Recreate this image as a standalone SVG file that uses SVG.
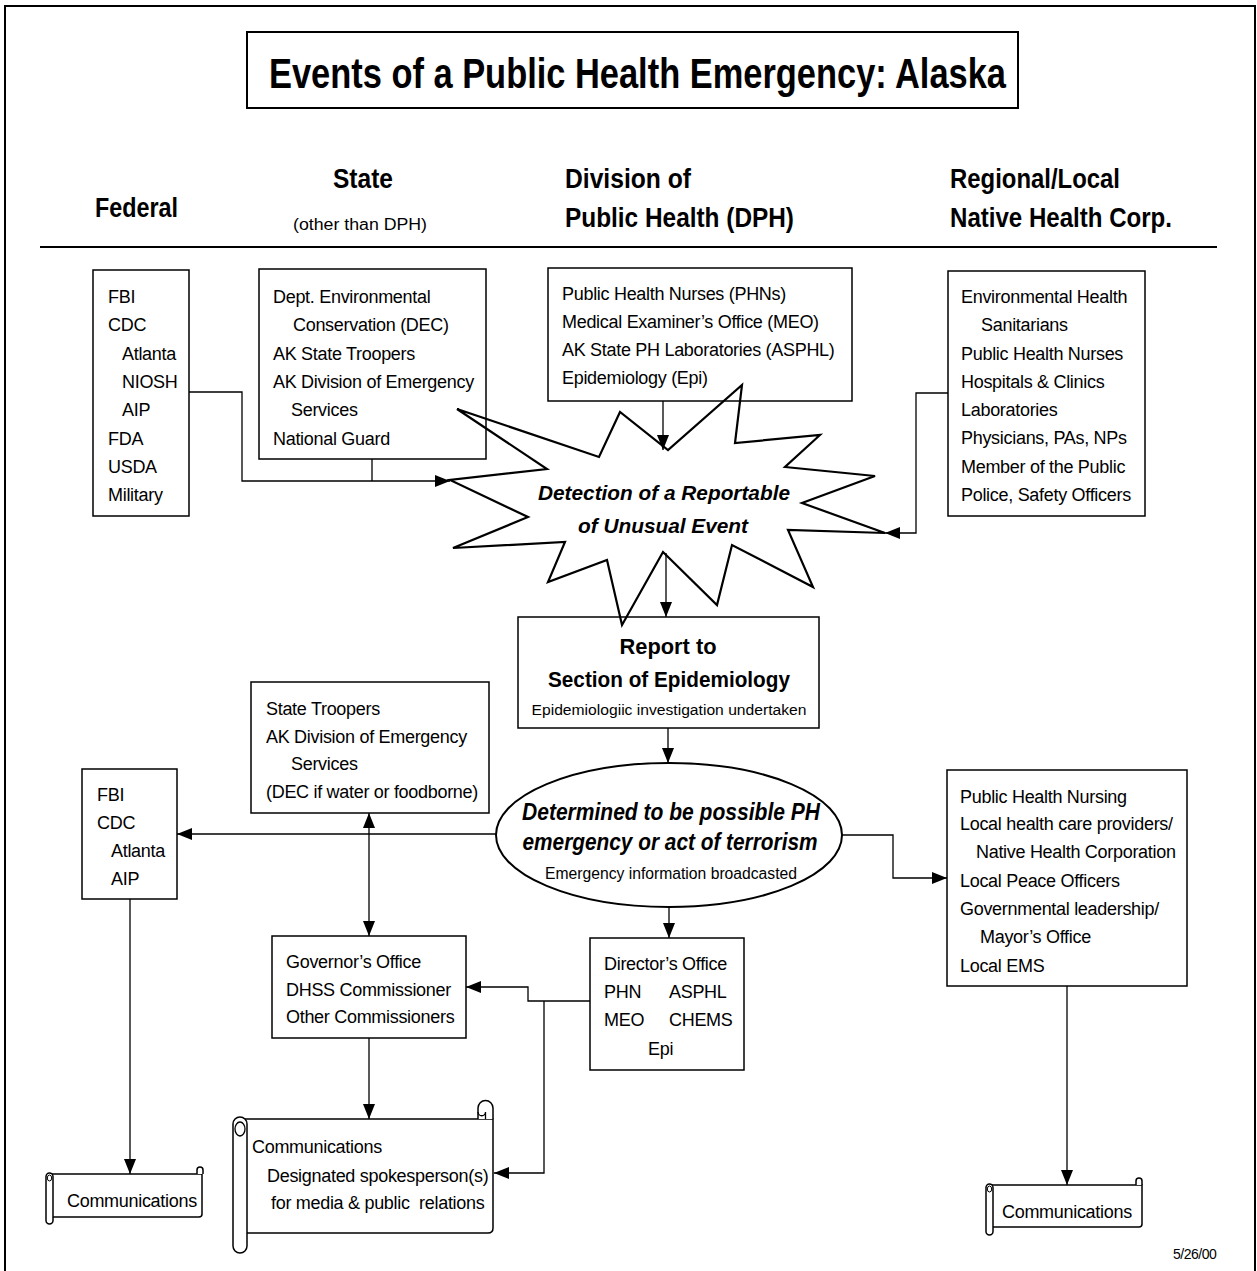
<svg xmlns="http://www.w3.org/2000/svg" width="1257" height="1271" viewBox="0 0 1257 1271">
<defs>
<style>
.frame{fill:none;stroke:#000;stroke-width:2}
.box{fill:none;stroke:#000;stroke-width:1.5}
.ln{fill:none;stroke:#000;stroke-width:1.3}
.arr{marker-end:url(#ah)}
.t{font-family:"Liberation Sans",Arial,sans-serif;font-size:18px;letter-spacing:-0.3px;fill:#000}
.hd{font-family:"Liberation Sans",Arial,sans-serif;font-size:27px;font-weight:bold;fill:#000}
.bi{font-family:"Liberation Sans",Arial,sans-serif;font-weight:bold;font-style:italic;fill:#000}
.sc{fill:#fff;stroke:#000;stroke-width:1.5}
</style>
<marker id="ah" markerUnits="userSpaceOnUse" markerWidth="15" markerHeight="12" refX="15" refY="6" orient="auto-start-reverse">
<path d="M0,0 L15,6 L0,12 z" fill="#000"/>
</marker>
</defs>
<rect x="0" y="0" width="1257" height="1271" fill="#fff"/>
<rect class="frame" x="5" y="6" width="1250" height="1275"/>

<g id="title">
<rect x="247" y="32" width="771" height="76" fill="none" stroke="#000" stroke-width="2"/>
<text x="269" y="88" font-family="Liberation Sans, Arial, sans-serif" font-size="43" font-weight="bold" textLength="737" lengthAdjust="spacingAndGlyphs">Events of a Public Health Emergency: Alaska</text>
</g>

<g id="headers">
<text class="hd" x="95" y="217" textLength="83" lengthAdjust="spacingAndGlyphs">Federal</text>
<text class="hd" x="333" y="188" textLength="60" lengthAdjust="spacingAndGlyphs">State</text>
<text x="293" y="230" font-family="Liberation Sans, Arial, sans-serif" font-size="16" textLength="134" lengthAdjust="spacingAndGlyphs">(other than DPH)</text>
<text class="hd" x="565" y="188" textLength="126" lengthAdjust="spacingAndGlyphs">Division of</text>
<text class="hd" x="565" y="227" textLength="229" lengthAdjust="spacingAndGlyphs">Public Health (DPH)</text>
<text class="hd" x="950" y="188" textLength="170" lengthAdjust="spacingAndGlyphs">Regional/Local</text>
<text class="hd" x="950" y="227" textLength="222" lengthAdjust="spacingAndGlyphs">Native Health Corp.</text>
<line x1="40" y1="247" x2="1217" y2="247" stroke="#000" stroke-width="2"/>
</g>

<g id="detection">
<polygon points="457,409 599,457 620,412 668,450 742,385 735,443 820,435 785,467 875,476 802,503 885,533 788,530 813,587 732,545 717,605 663,552 622,625 607,560 548,582 565,542 453,548 528,517 450,480 547,469" fill="#fff" stroke="#000" stroke-width="2.2" stroke-linejoin="miter"/>
<text class="bi" x="664" y="500" font-size="21" text-anchor="middle" textLength="252" lengthAdjust="spacingAndGlyphs">Detection of a Reportable</text>
<text class="bi" x="663" y="533" font-size="21" text-anchor="middle" textLength="170" lengthAdjust="spacingAndGlyphs">of Unusual Event</text>
</g>

<g id="federal-top">
<rect class="box" x="93" y="270" width="96" height="246"/>
<text class="t" x="108" y="303">FBI</text>
<text class="t" x="108" y="331">CDC</text>
<text class="t" x="122" y="360">Atlanta</text>
<text class="t" x="122" y="388">NIOSH</text>
<text class="t" x="122" y="416">AIP</text>
<text class="t" x="108" y="445">FDA</text>
<text class="t" x="108" y="473">USDA</text>
<text class="t" x="108" y="501">Military</text>
</g>

<g id="state-top">
<rect class="box" x="259" y="269" width="227" height="190"/>
<text class="t" x="273" y="303">Dept. Environmental</text>
<text class="t" x="293" y="331">Conservation (DEC)</text>
<text class="t" x="273" y="360">AK State Troopers</text>
<text class="t" x="273" y="388">AK Division of Emergency</text>
<text class="t" x="291" y="416">Services</text>
<text class="t" x="273" y="445">National Guard</text>
</g>

<g id="dph-top">
<rect class="box" x="548" y="268" width="304" height="133"/>
<text class="t" x="562" y="300">Public Health Nurses (PHNs)</text>
<text class="t" x="562" y="328">Medical Examiner’s Office (MEO)</text>
<text class="t" x="562" y="356">AK State PH Laboratories (ASPHL)</text>
<text class="t" x="562" y="384">Epidemiology (Epi)</text>
</g>

<g id="native-top">
<rect class="box" x="948" y="271" width="197" height="245"/>
<text class="t" x="961" y="303">Environmental Health</text>
<text class="t" x="981" y="331">Sanitarians</text>
<text class="t" x="961" y="360">Public Health Nurses</text>
<text class="t" x="961" y="388">Hospitals &amp; Clinics</text>
<text class="t" x="961" y="416">Laboratories</text>
<text class="t" x="961" y="444">Physicians, PAs, NPs</text>
<text class="t" x="961" y="473">Member of the Public</text>
<text class="t" x="961" y="501">Police, Safety Officers</text>
</g>

<g id="report">
<rect class="box" x="518" y="617" width="301" height="111" fill="#fff"/>
<text x="668" y="654" font-family="Liberation Sans, Arial, sans-serif" font-size="22" font-weight="bold" text-anchor="middle" textLength="97" lengthAdjust="spacingAndGlyphs">Report to</text>
<text x="669" y="687" font-family="Liberation Sans, Arial, sans-serif" font-size="22" font-weight="bold" text-anchor="middle" textLength="242" lengthAdjust="spacingAndGlyphs">Section of Epidemiology</text>
<text x="669" y="715" font-family="Liberation Sans, Arial, sans-serif" font-size="15.5" text-anchor="middle" textLength="275" lengthAdjust="spacingAndGlyphs">Epidemiologiic investigation undertaken</text>
</g>

<g id="state-mid">
<rect class="box" x="251" y="682" width="238" height="131"/>
<text class="t" x="266" y="715">State Troopers</text>
<text class="t" x="266" y="743">AK Division of Emergency</text>
<text class="t" x="291" y="770">Services</text>
<text class="t" x="266" y="798">(DEC if water or foodborne)</text>
</g>

<g id="determined">
<ellipse cx="669" cy="835" rx="173" ry="72" fill="#fff" stroke="#000" stroke-width="2"/>
<text class="bi" x="671" y="820" font-size="23" text-anchor="middle" textLength="298" lengthAdjust="spacingAndGlyphs">Determined to be possible PH</text>
<text class="bi" x="670" y="850" font-size="23" text-anchor="middle" textLength="295" lengthAdjust="spacingAndGlyphs">emergency or act of terrorism</text>
<text x="671" y="879" font-family="Liberation Sans, Arial, sans-serif" font-size="16" text-anchor="middle" textLength="252" lengthAdjust="spacingAndGlyphs">Emergency information broadcasted</text>
</g>

<g id="federal-mid">
<rect class="box" x="82" y="769" width="95" height="130"/>
<text class="t" x="97" y="801">FBI</text>
<text class="t" x="97" y="829">CDC</text>
<text class="t" x="111" y="857">Atlanta</text>
<text class="t" x="111" y="885">AIP</text>
</g>

<g id="native-mid">
<rect class="box" x="947" y="770" width="240" height="216"/>
<text class="t" x="960" y="803">Public Health Nursing</text>
<text class="t" x="960" y="830">Local health care providers/</text>
<text class="t" x="976" y="858">Native Health Corporation</text>
<text class="t" x="960" y="887">Local Peace Officers</text>
<text class="t" x="960" y="915">Governmental leadership/</text>
<text class="t" x="980" y="943">Mayor’s Office</text>
<text class="t" x="960" y="972">Local EMS</text>
</g>

<g id="governor">
<rect class="box" x="272" y="936" width="194" height="102"/>
<text class="t" x="286" y="968">Governor’s Office</text>
<text class="t" x="286" y="996">DHSS Commissioner</text>
<text class="t" x="286" y="1023">Other Commissioners</text>
</g>

<g id="director">
<rect class="box" x="590" y="938" width="154" height="132"/>
<text class="t" x="604" y="970">Director’s Office</text>
<text class="t" x="604" y="998">PHN</text>
<text class="t" x="669" y="998">ASPHL</text>
<text class="t" x="604" y="1026">MEO</text>
<text class="t" x="669" y="1026">CHEMS</text>
<text class="t" x="648" y="1055">Epi</text>
</g>

<g id="comm-center">
<path class="sc" d="M240,1119 H493 V1228 Q493,1233 488,1233 H240 Z"/>
<path class="sc" d="M478,1119 V1108 A7.5,7.5 0 0 1 493,1108 V1119"/>
<path class="ln" d="M478,1112 A3.7,3.7 0 0 0 485.5,1112 V1119"/>
<rect class="sc" x="233" y="1117" width="14" height="136" rx="7"/>
<ellipse cx="240" cy="1129" rx="5" ry="7" fill="none" stroke="#000" stroke-width="1.3"/>
<text class="t" x="252" y="1153">Communications</text>
<text class="t" x="267" y="1182">Designated spokesperson(s)</text>
<text class="t" x="271" y="1209" xml:space="preserve">for media &amp; public  relations</text>
</g>

<g id="comm-left">
<path class="sc" d="M50,1174 H202 V1214 Q202,1217 199,1217 H50 Z"/>
<path class="sc" d="M197,1174 V1170 A3,3 0 0 1 203,1170 V1174"/>
<rect class="sc" x="46" y="1173" width="7" height="51" rx="3.5"/>
<ellipse cx="49.5" cy="1178" rx="2.2" ry="3" fill="none" stroke="#000" stroke-width="1"/>
<text class="t" x="67" y="1207">Communications</text>
</g>

<g id="comm-right">
<path class="sc" d="M990,1185 H1142 V1224 Q1142,1227 1139,1227 H990 Z"/>
<path class="sc" d="M1136,1185 V1181 A3,3 0 0 1 1142,1181 V1185"/>
<rect class="sc" x="986" y="1184" width="7" height="51" rx="3.5"/>
<ellipse cx="989.5" cy="1189" rx="2.2" ry="3" fill="none" stroke="#000" stroke-width="1"/>
<text class="t" x="1002" y="1218">Communications</text>
</g>

<g id="connectors">
<polyline class="ln arr" points="189,392 242,392 242,481 450,481"/>
<line class="ln" x1="372" y1="459" x2="372" y2="481"/>
<line class="ln arr" x1="663" y1="401" x2="663" y2="450"/>
<polyline class="ln arr" points="948,393 916,393 916,533 885,533"/>
<line class="ln arr" x1="666" y1="553" x2="666" y2="617"/>
<line class="ln arr" x1="668" y1="728" x2="668" y2="763"/>
<line class="ln arr" x1="496" y1="834" x2="177" y2="834"/>
<line class="ln arr" x1="369" y1="936" x2="369" y2="813" style="marker-start:url(#ah)"/>
<polyline class="ln arr" points="842,835 893,835 893,878 947,878"/>
<line class="ln arr" x1="669" y1="907" x2="669" y2="938"/>
<polyline class="ln arr" points="590,1001 528,1001 528,987 466,987"/>
<polyline class="ln arr" points="544,1001 544,1173 494,1173"/>
<line class="ln arr" x1="369" y1="1038" x2="369" y2="1119"/>
<line class="ln arr" x1="130" y1="899" x2="130" y2="1174"/>
<line class="ln arr" x1="1067" y1="986" x2="1067" y2="1185"/>
</g>

<text x="1173" y="1259" font-family="Liberation Sans, Arial, sans-serif" font-size="14" letter-spacing="-0.5">5/26/00</text>
</svg>
